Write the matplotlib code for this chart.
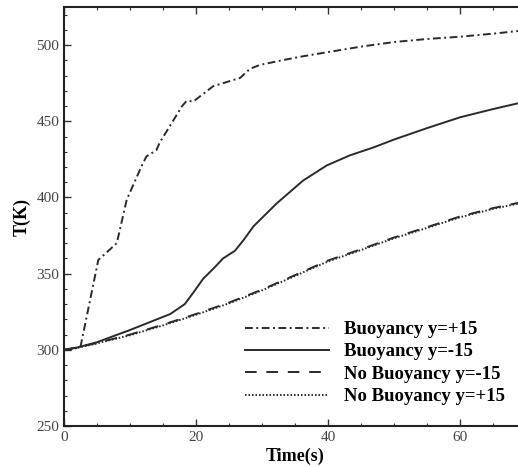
import matplotlib
matplotlib.use("Agg")
import matplotlib.pyplot as plt
from matplotlib.ticker import MultipleLocator

# Temperature histories at two probe heights, with and without buoyancy
t_b_up = [0, 1, 2.5, 5.2, 8.0, 9.5, 11.8, 12.5, 14.0, 14.5, 17.9, 18.6, 19.6, 22.6, 25.6, 26.7, 28.2, 29.7,
          33, 36, 40, 45, 50, 55, 60, 65, 70]
T_b_up = [300, 300, 302, 359, 370, 398.5, 421, 427, 431, 436, 460, 463.5, 463, 473, 477, 478.5, 484.5, 487,
          490, 492.5, 495.4, 499, 502, 504, 505.5, 507.5, 509.8]

t_b_dn = [0, 2, 5, 10, 16.1, 18.3, 19.5, 21.1, 22.8, 24.1, 25.9, 27.2, 28.7, 32.2, 36.2, 39.8, 43.3, 47,
          50, 55, 60, 65, 70]
T_b_dn = [300, 301.5, 305, 313, 323.5, 330, 337, 346.7, 354, 360, 365, 372, 381, 396, 411, 421, 427.6, 433,
          438, 445.5, 452.6, 458, 463]

t_nb = [0, 2, 5, 10, 15, 20, 25, 30, 35, 40, 45, 50, 55, 60, 65, 70]
T_nb_dn = [300, 301.5, 304.5, 310, 316.5, 323.5, 331, 339.5, 349, 358.6, 366, 373.7, 380.5, 387.5, 393, 397.5]
T_nb_up = [300, 301.3, 304.2, 309.6, 316, 323, 330.5, 339, 348.5, 358, 365.5, 373.2, 380, 387, 392.5, 397]

labels = ["Buoyancy y=+15", "Buoyancy y=-15", "No Buoyancy y=-15", "No Buoyancy y=+15"]

plt.rcParams["font.family"] = ["Liberation Serif", "DejaVu Serif"]

fig = plt.figure(figsize=(5.18, 4.67), dpi=100)
ax = fig.add_axes([64 / 518, 1 - 426 / 467, 462 / 518, 419 / 467])

col = "#2a2a2a"
lw = 1.4
ax.plot(t_b_up, T_b_up, color=col, lw=lw, linestyle=(0, (4, 1.8, 1, 1.8)), label=labels[0])
ax.plot(t_b_dn, T_b_dn, color=col, lw=lw, linestyle="-", label=labels[1])
ax.plot(t_nb, T_nb_dn, color=col, lw=lw, linestyle=(0, (6, 5)), label=labels[2])
ax.plot(t_nb, T_nb_up, color=col, lw=lw, linestyle=(0, (0.8, 1.0)), label=labels[3])

ax.set_xlim(0, 70)
ax.set_ylim(250, 525)
ax.xaxis.set_major_locator(MultipleLocator(20))
ax.xaxis.set_minor_locator(MultipleLocator(5))
ax.yaxis.set_major_locator(MultipleLocator(50))
ax.yaxis.set_minor_locator(MultipleLocator(10))
ax.tick_params(which="both", direction="in", top=True, right=True, colors="#333333",
               labelcolor="#444444", labelsize=11)
ax.tick_params(which="major", length=5, width=1)
ax.tick_params(which="minor", length=2.5, width=0.8)
for s in ax.spines.values():
    s.set_linewidth(1.5)
    s.set_color("#222222")

ax.set_xlabel("Time(s)", fontsize=13, fontweight="bold", labelpad=3)
ax.set_ylabel("T(K)", fontsize=13, fontweight="bold", labelpad=4)

leg = ax.legend(loc="upper left", bbox_to_anchor=((245 - 64) / 462, (426 - 321) / 419),
                frameon=False, borderpad=0, borderaxespad=0,
                prop={"weight": "bold", "size": 13.5}, handlelength=4.5,
                handletextpad=0.8, labelspacing=0.28)

fig.savefig("out.png", dpi=100)
